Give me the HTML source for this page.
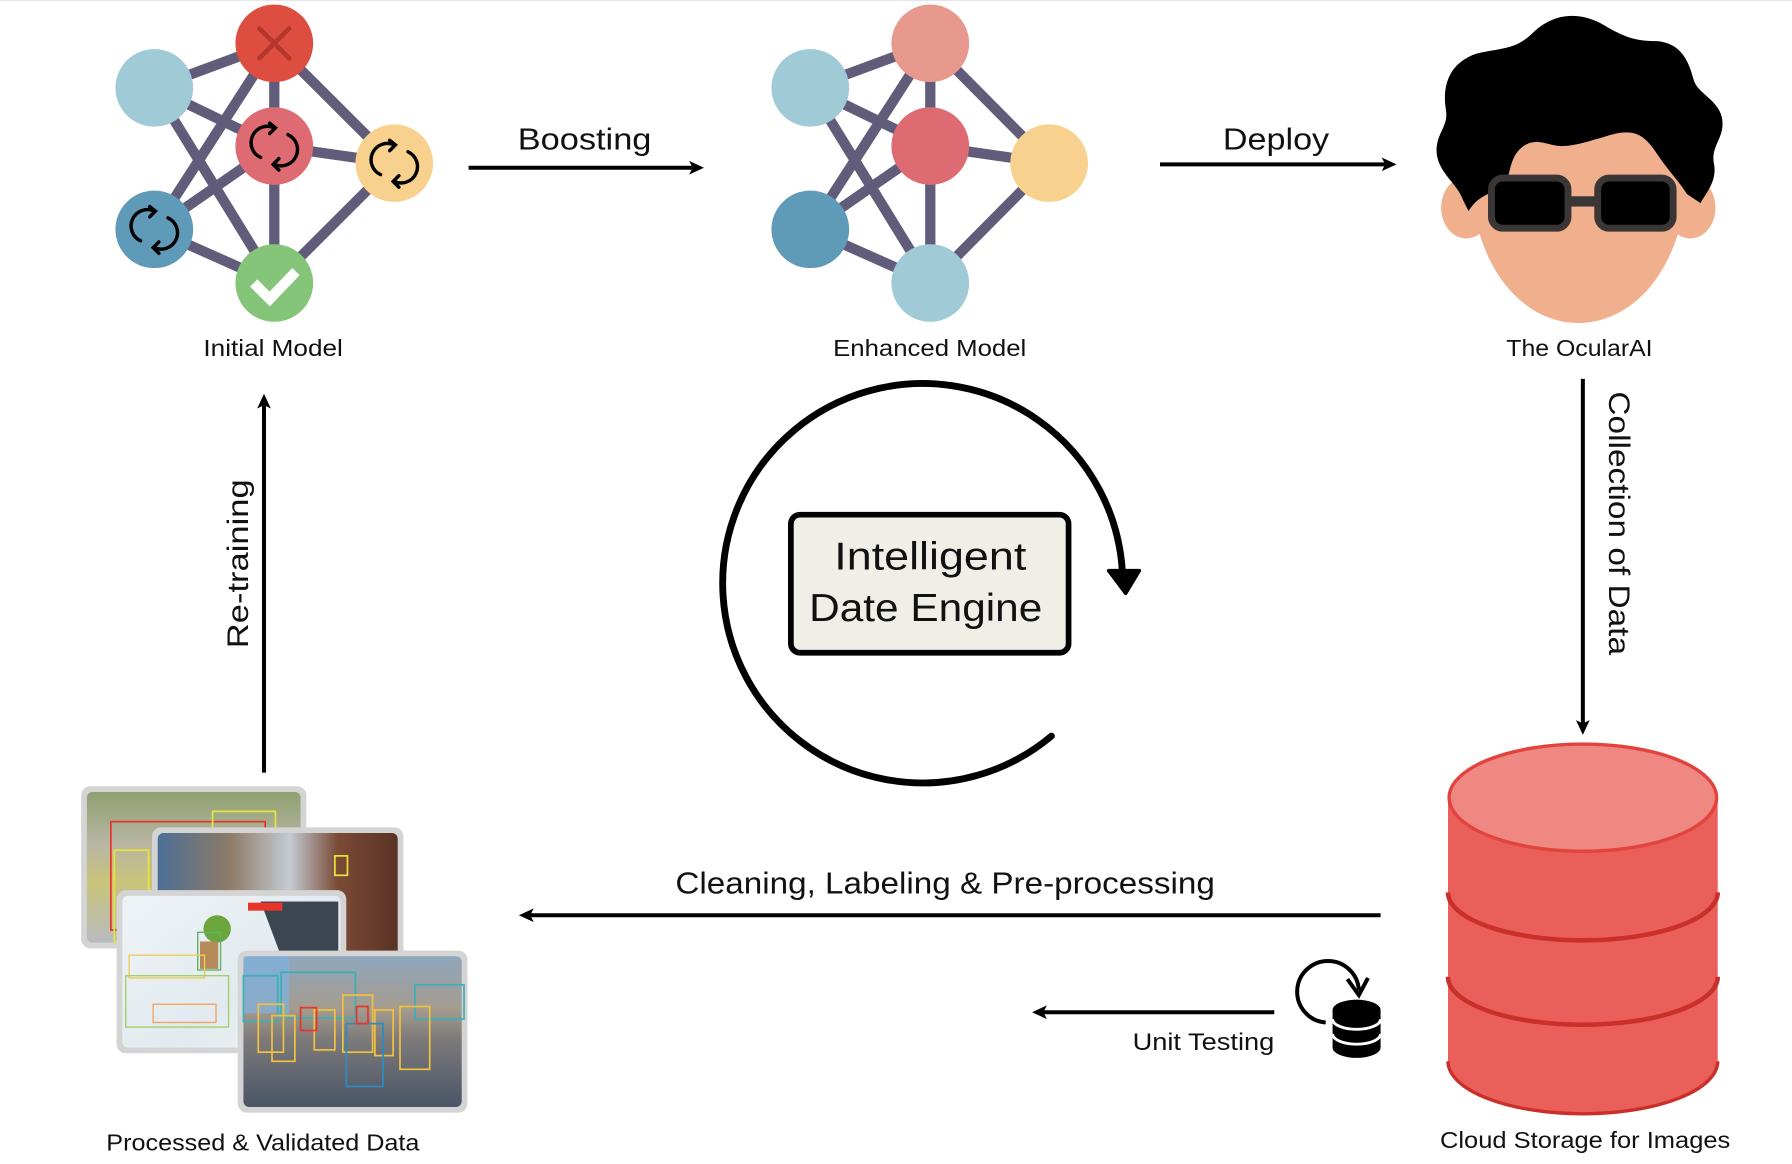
<!DOCTYPE html>
<html><head><meta charset="utf-8"><style>
html,body{margin:0;padding:0;background:#fff;}
svg{display:block;}
text{font-family:"Liberation Sans",sans-serif;fill:#111;}
</style></head><body>
<svg width="1792" height="1164" viewBox="0 0 1568 1020" preserveAspectRatio="none" xmlns="http://www.w3.org/2000/svg">
<defs>
<marker id="ah" markerWidth="14" markerHeight="14" refX="9" refY="7" orient="auto" markerUnits="userSpaceOnUse"><path d="M0,1 L13,7 L0,13 L3,7 Z" fill="#000"/></marker>
<linearGradient id="g1" x1="0" y1="0" x2="0" y2="1"><stop offset="0" stop-color="#8fa070"/><stop offset="0.35" stop-color="#b9b6a4"/><stop offset="0.6" stop-color="#c9c47a"/><stop offset="1" stop-color="#b8bac0"/></linearGradient>
<linearGradient id="g2" x1="0" y1="0" x2="1" y2="0"><stop offset="0" stop-color="#4c6f96"/><stop offset="0.3" stop-color="#8d7b66"/><stop offset="0.55" stop-color="#c4cbd3"/><stop offset="0.75" stop-color="#7a4a36"/><stop offset="1" stop-color="#5a3325"/></linearGradient>
<linearGradient id="g3" x1="0" y1="0" x2="1" y2="1"><stop offset="0" stop-color="#eef3f6"/><stop offset="0.6" stop-color="#e2eaef"/><stop offset="1" stop-color="#f3f6f8"/></linearGradient>
<linearGradient id="g4" x1="0" y1="0" x2="0" y2="1"><stop offset="0" stop-color="#8fa6bd"/><stop offset="0.35" stop-color="#a59c8e"/><stop offset="0.55" stop-color="#7d7a7a"/><stop offset="1" stop-color="#4a5566"/></linearGradient>
</defs>
<line x1="0" y1="0.5" x2="1568" y2="0.5" stroke="#e6e6ee" stroke-width="1"/>

<!-- Initial model -->
<g stroke="#615c7a" stroke-width="9">
<line x1="135" y1="77" x2="240" y2="38"/><line x1="135" y1="77" x2="240" y2="128"/><line x1="135" y1="77" x2="240" y2="248"/>
<line x1="240" y1="38" x2="240" y2="128"/><line x1="240" y1="38" x2="345" y2="143"/><line x1="240" y1="38" x2="135" y2="201"/>
<line x1="240" y1="128" x2="345" y2="143"/><line x1="240" y1="128" x2="135" y2="201"/><line x1="240" y1="128" x2="240" y2="248"/>
<line x1="345" y1="143" x2="240" y2="248"/><line x1="135" y1="201" x2="240" y2="248"/>
</g>
<circle cx="135" cy="77" r="34" fill="#9fcad6"/>
<circle cx="240" cy="38" r="34" fill="#dd4e40"/>
<path d="M227,25 L253,51 M253,25 L227,51" stroke="#b3362c" stroke-width="4" stroke-linecap="round"/>
<circle cx="240" cy="128" r="34" fill="#de6a72"/>
<circle cx="345" cy="143" r="34" fill="#f8d18e"/>
<circle cx="135" cy="201" r="34" fill="#5f9ab8"/>
<circle cx="240" cy="248" r="34" fill="#84c57a"/>
<path d="M222,248 L236,262 L259,238" stroke="#fff" stroke-width="9" fill="none" stroke-linejoin="miter"/>
<g fill="none" stroke="#000" stroke-width="3" stroke-linecap="round">
<path d="M228,138 A14,14 0 0 1 240,112 M252,118 A14,14 0 0 1 240,144"/>
<path d="M236,108 L241,112 L236,117 M244,139 L239,144 L244,149"/>
<path d="M333,153 A14,14 0 0 1 345,127 M357,133 A14,14 0 0 1 345,159"/>
<path d="M341,123 L346,127 L341,132 M349,154 L344,159 L349,164"/>
<path d="M123,211 A14,14 0 0 1 135,185 M147,191 A14,14 0 0 1 135,217"/>
<path d="M131,181 L136,185 L131,190 M139,212 L134,217 L139,222"/>
</g>
<text x="178" y="312" font-size="20" textLength="122" lengthAdjust="spacingAndGlyphs">Initial Model</text>

<text x="453" y="131" font-size="27" textLength="117" lengthAdjust="spacingAndGlyphs">Boosting</text>
<line x1="410" y1="147" x2="612" y2="147" stroke="#000" stroke-width="3.5" marker-end="url(#ah)"/>

<!-- Enhanced model -->
<g stroke="#615c7a" stroke-width="9">
<line x1="709" y1="77" x2="814" y2="38"/><line x1="709" y1="77" x2="814" y2="128"/><line x1="709" y1="77" x2="814" y2="248"/>
<line x1="814" y1="38" x2="814" y2="128"/><line x1="814" y1="38" x2="918" y2="143"/><line x1="814" y1="38" x2="709" y2="201"/>
<line x1="814" y1="128" x2="918" y2="143"/><line x1="814" y1="128" x2="709" y2="201"/><line x1="814" y1="128" x2="814" y2="248"/>
<line x1="918" y1="143" x2="814" y2="248"/><line x1="709" y1="201" x2="814" y2="248"/>
</g>
<circle cx="709" cy="77" r="34" fill="#9fcad6"/>
<circle cx="814" cy="38" r="34" fill="#e8998d"/>
<circle cx="814" cy="128" r="34" fill="#de6a72"/>
<circle cx="918" cy="143" r="34" fill="#f8d18e"/>
<circle cx="709" cy="201" r="34" fill="#5f9ab8"/>
<circle cx="814" cy="248" r="34" fill="#9fcad6"/>
<text x="729" y="312" font-size="20" textLength="169" lengthAdjust="spacingAndGlyphs">Enhanced Model</text>

<text x="1070" y="131" font-size="27" textLength="93" lengthAdjust="spacingAndGlyphs">Deploy</text>
<line x1="1015" y1="144" x2="1218" y2="144" stroke="#000" stroke-width="3.5" marker-end="url(#ah)"/>

<!-- Face -->
<ellipse cx="1283" cy="182" rx="22" ry="27" fill="#f0b08e"/>
<ellipse cx="1479" cy="182" rx="22" ry="27" fill="#f0b08e"/>
<path d="M1287,150 C1287,230 1330,283 1381,283 C1432,283 1476,230 1476,150 C1476,110 1440,100 1381,100 C1322,100 1287,110 1287,150 Z" fill="#f0b08e"/>
<path d="M1280,175 C1275,160 1256,150 1257,130 C1258,115 1268,110 1265,95 C1262,75 1268,55 1292,47 C1312,42 1325,44 1340,30 C1355,15 1375,8 1400,20 C1420,32 1430,36 1450,36 C1472,38 1478,55 1482,70 C1485,82 1505,88 1507,105 C1509,122 1496,128 1500,145 C1502,160 1492,170 1488,178 L1476,170 C1470,160 1460,150 1450,135 C1440,120 1432,112 1410,118 C1390,124 1378,128 1366,128 C1355,128 1345,120 1333,128 C1322,136 1322,148 1318,160 C1310,170 1295,168 1285,185 Z" fill="#000"/>
<g fill="#000" stroke="#3a3636" stroke-width="6">
<rect x="1305" y="156" width="67" height="44" rx="10"/>
<rect x="1398" y="156" width="66" height="44" rx="10"/>
</g>
<rect x="1372" y="172" width="26" height="9" fill="#3a3636"/>
<text x="1318" y="312" font-size="20" textLength="128" lengthAdjust="spacingAndGlyphs">The OcularAI</text>

<!-- Collection -->
<line x1="1385" y1="332" x2="1385" y2="640" stroke="#000" stroke-width="3.5" marker-end="url(#ah)"/>
<text transform="translate(1408,343) rotate(90)" font-size="26" textLength="231" lengthAdjust="spacingAndGlyphs">Collection of Data</text>

<!-- Cylinder -->
<path d="M1267,698 L1267,930 A118,46 0 0 0 1503,930 L1503,698 Z" fill="#eb5f5a"/>
<path d="M1267,930 A118,46 0 0 0 1503,930" fill="none" stroke="#c9302a" stroke-width="3"/>
<path d="M1267,782 A118,42 0 0 0 1503,782" fill="none" stroke="#c9302a" stroke-width="4"/>
<path d="M1267,856 A118,42 0 0 0 1503,856" fill="none" stroke="#c9302a" stroke-width="4"/>
<ellipse cx="1385" cy="699" rx="117" ry="47" fill="#ef8782" stroke="#e2443d" stroke-width="3"/>
<text x="1260" y="1006" font-size="20" textLength="254" lengthAdjust="spacingAndGlyphs">Cloud Storage for Images</text>

<!-- Cleaning -->
<text x="591" y="783" font-size="27" textLength="472" lengthAdjust="spacingAndGlyphs">Cleaning, Labeling &amp; Pre-processing</text>
<line x1="1208" y1="802" x2="458" y2="802" stroke="#000" stroke-width="3.5" marker-end="url(#ah)"/>

<!-- Unit testing -->
<line x1="1115" y1="887" x2="907" y2="887" stroke="#000" stroke-width="3.5" marker-end="url(#ah)"/>
<text x="991" y="920" font-size="21" textLength="124" lengthAdjust="spacingAndGlyphs">Unit Testing</text>
<path d="M1160,896 A27,27 0 1 1 1189,868" fill="none" stroke="#000" stroke-width="3.5"/>
<path d="M1179,858 L1189,872 L1197,857" fill="none" stroke="#000" stroke-width="3.5"/>
<path d="M1166,885 L1166,918 A21,9 0 0 0 1208,918 L1208,885 Z" fill="#000"/>
<ellipse cx="1187" cy="885" rx="21" ry="9" fill="#000"/>
<path d="M1166,893 A21,9 0 0 0 1208,893 M1166,906 A21,9 0 0 0 1208,906" fill="none" stroke="#fff" stroke-width="2.5"/>

<!-- Re-training -->
<line x1="231" y1="677" x2="231" y2="349" stroke="#000" stroke-width="3.5" marker-end="url(#ah)"/>
<text transform="translate(217,568) rotate(-90)" font-size="26" textLength="148" lengthAdjust="spacingAndGlyphs">Re-training</text>

<!-- Engine -->
<path d="M920,645 A175,175 0 1 1 982,500" fill="none" stroke="#000" stroke-width="6" stroke-linecap="round"/>
<path d="M970,500 L997,500 L985,520 Z" fill="#000" stroke="#000" stroke-width="3" stroke-linejoin="round"/>
<rect x="692" y="451" width="243" height="121" rx="8" fill="#efefe8" stroke="#000" stroke-width="5"/>
<text x="730" y="499" font-size="34" textLength="168" lengthAdjust="spacingAndGlyphs">Intelligent</text>
<text x="708" y="544" font-size="34" textLength="204" lengthAdjust="spacingAndGlyphs">Date Engine</text>

<!-- Photos -->
<rect x="71" y="689" width="197" height="142" rx="8" fill="#d4d4d4"/>
<rect x="76" y="694" width="187" height="132" rx="5" fill="url(#g1)"/>
<rect x="97" y="720" width="135" height="95" fill="none" stroke="#e8352b" stroke-width="1.5"/>
<rect x="100" y="745" width="30" height="80" fill="none" stroke="#e5e53a" stroke-width="1.5"/>
<rect x="186" y="711" width="55" height="30" fill="none" stroke="#e5e53a" stroke-width="1.5"/>

<rect x="133" y="725" width="220" height="120" rx="8" fill="#d4d4d4"/>
<rect x="138" y="730" width="210" height="112" rx="5" fill="url(#g2)"/>
<rect x="293" y="750" width="11" height="17" fill="none" stroke="#e5e53a" stroke-width="1.5"/>

<rect x="102" y="780" width="201" height="143" rx="8" fill="#d4d4d4"/>
<rect x="107" y="785" width="191" height="133" rx="5" fill="url(#g3)"/>
<path d="M228,790 L296,790 L296,838 L246,838 Z" fill="#3b4650"/>
<circle cx="190" cy="814" r="12" fill="#6aa63c"/>
<rect x="175" y="825" width="16" height="24" fill="#b48a58"/>
<rect x="173" y="817" width="20" height="33" fill="none" stroke="#5db36a" stroke-width="1.2"/>
<rect x="113" y="837" width="66" height="20" fill="none" stroke="#efcb5a" stroke-width="1.2"/>
<rect x="110" y="855" width="90" height="45" fill="none" stroke="#9fd06a" stroke-width="1.2"/>
<rect x="134" y="880" width="55" height="16" fill="none" stroke="#f0a560" stroke-width="1.2"/>
<rect x="217" y="791" width="30" height="7" fill="#e8352b"/>

<rect x="208" y="833" width="201" height="142" rx="8" fill="#d4d4d4"/>
<rect x="213" y="838" width="191" height="132" rx="5" fill="url(#g4)"/>
<rect x="213" y="838" width="40" height="50" fill="#7fb0df" opacity="0.7"/>
<rect x="246" y="852" width="65" height="40" fill="none" stroke="#3ab0b8" stroke-width="1.5"/>
<rect x="363" y="863" width="43" height="30" fill="none" stroke="#3ab0b8" stroke-width="1.5"/>
<rect x="213" y="855" width="30" height="40" fill="none" stroke="#3ab0b8" stroke-width="1.5"/>
<g fill="none" stroke="#f0c040" stroke-width="1.5">
<rect x="226" y="880" width="22" height="42"/><rect x="238" y="890" width="20" height="40"/>
<rect x="275" y="885" width="18" height="35"/><rect x="300" y="872" width="26" height="50"/>
<rect x="350" y="882" width="26" height="55"/><rect x="328" y="885" width="16" height="40"/>
</g>
<rect x="303" y="897" width="32" height="55" fill="none" stroke="#2a8cc4" stroke-width="1.5"/>
<rect x="312" y="882" width="10" height="15" fill="none" stroke="#e8352b" stroke-width="1.5"/>
<rect x="263" y="883" width="14" height="20" fill="none" stroke="#e8352b" stroke-width="1.5"/>
<text x="93" y="1008" font-size="20" textLength="274" lengthAdjust="spacingAndGlyphs">Processed &amp; Validated Data</text>
</svg>
</body></html>
